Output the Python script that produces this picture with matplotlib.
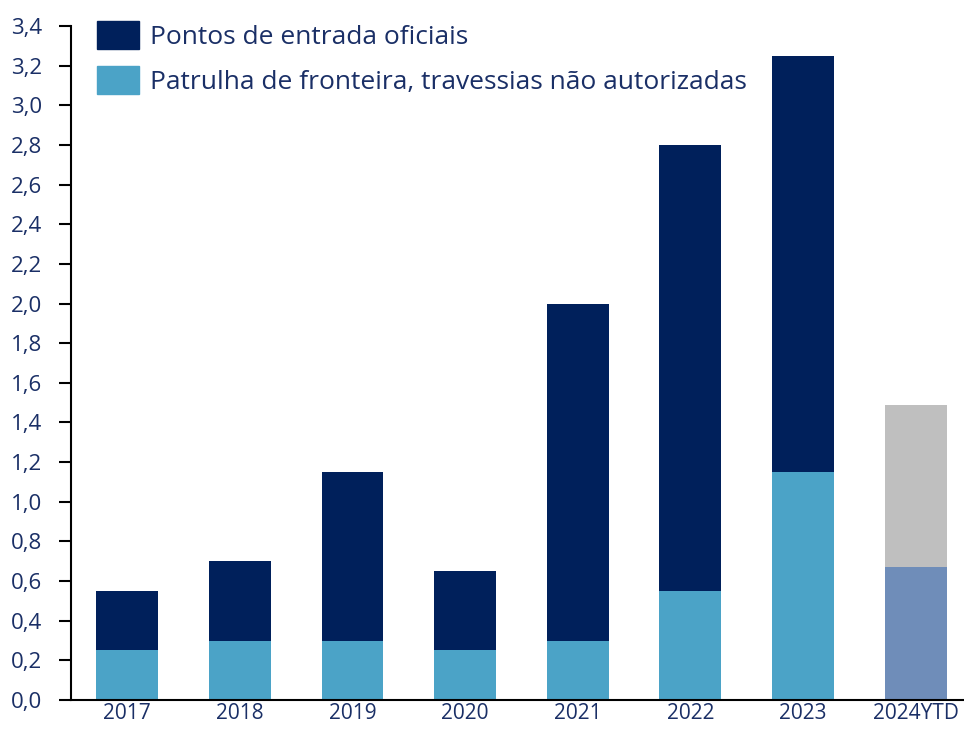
import matplotlib
matplotlib.use("Agg")
import matplotlib.pyplot as plt
from matplotlib.patches import Patch

categories = ["2017", "2018", "2019", "2020", "2021", "2022", "2023", "2024YTD"]
patrulha = [0.25, 0.30, 0.30, 0.25, 0.30, 0.55, 1.15, 0.67]
pontos = [0.30, 0.40, 0.85, 0.40, 1.70, 2.25, 2.10, 0.82]
yticks = [0.0, 0.2, 0.4, 0.6, 0.8, 1.0, 1.2, 1.4, 1.6, 1.8, 2.0, 2.2, 2.4, 2.6, 2.8, 3.0, 3.2, 3.4]
legend_labels = ["Pontos de entrada oficiais", "Patrulha de fronteira, travessias não autorizadas"]

NAVY = "#00205b"
LIGHT = "#4ba3c7"
GREY = "#bfbfbf"
STEEL = "#6f8db9"
TXT = "#1a2f66"

plt.rcParams['font.family'] = ['Open Sans', 'DejaVu Sans']

fig = plt.figure(figsize=(9.64, 7.30), dpi=100)
ax = fig.add_axes([71/964, 30/730, 1 - 71/964, (700 - 26)/730])

x = list(range(len(categories)))
bot_colors = [LIGHT] * (len(categories) - 1) + [STEEL]
top_colors = [NAVY] * (len(categories) - 1) + [GREY]
ax.bar(x, patrulha, width=0.55, color=bot_colors, zorder=2)
ax.bar(x, pontos, bottom=patrulha, width=0.55, color=top_colors, zorder=2)

ax.set_xlim(-0.5, 7.43)
ax.set_ylim(0, 3.4)
ax.set_yticks(yticks)
ax.set_yticklabels([f"{v:.1f}".replace(".", ",") for v in yticks])
ax.set_xticks(x)
ax.set_xticklabels(categories)

for s in ["top", "right"]:
    ax.spines[s].set_visible(False)
for s in ["left", "bottom"]:
    ax.spines[s].set_linewidth(1.5)
    ax.spines[s].set_color("black")
ax.tick_params(axis="y", direction="out", length=9, width=1.5, colors="black",
               labelcolor=TXT, labelsize=16, pad=12)
ax.tick_params(axis="x", length=0, labelcolor=TXT, labelsize=15, pad=2)

handles = [Patch(color=NAVY), Patch(color=LIGHT)]
leg = ax.legend(handles, legend_labels, loc="upper left", bbox_to_anchor=(0.029, 1.008),
                frameon=False, fontsize=19, handlelength=1.6, handleheight=1.3,
                handletextpad=0.4, labelspacing=0.6, borderaxespad=0, borderpad=0)
for t in leg.get_texts():
    t.set_color(TXT)

fig.savefig("out.png", dpi=100)
